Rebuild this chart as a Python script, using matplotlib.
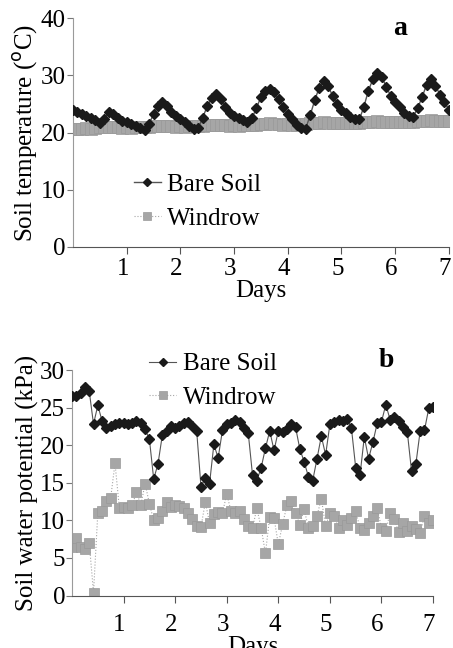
"""
Soil temperature and soil water potential - bare soil vs windrow
"""
import matplotlib.pyplot as plt
import matplotlib.transforms as mtransforms
import numpy as np

plt.rcParams['font.family'] = ['Liberation Serif', 'DejaVu Serif']

# sampling interval: every 2 hours, 7 days
step_days = 2 / 24

# Panel a: soil temperature (deg C)
bare_temp = np.array([
    24.0, 23.6, 23.2, 22.9, 22.6, 22.2, 21.7, 22.3, 23.6, 23.3, 22.6, 22.1,
    21.8, 21.5, 21.2, 20.8, 20.4, 21.5, 23.2, 24.6, 25.3, 24.6, 23.6, 22.9,
    22.4, 21.9, 21.2, 20.7, 20.8, 22.6, 24.6, 26.0, 26.7, 25.8, 24.5, 23.5,
    22.9, 22.5, 22.2, 21.9, 22.5, 24.3, 26.2, 27.2, 27.6, 27.0, 25.8, 24.4,
    23.3, 22.3, 21.3, 20.8, 20.7, 23.0, 25.6, 27.8, 29.0, 28.2, 26.4, 25.0,
    24.0, 23.4, 22.8, 22.4, 22.3, 24.5, 27.3, 29.3, 30.4, 29.7, 28.0, 26.4,
    25.3, 24.4, 23.5, 22.9, 22.8, 24.2, 26.2, 28.3, 29.3, 28.2, 26.6, 25.3,
    24.0])
windrow_temp = np.array([
    20.7, 20.6, 20.7, 20.8, 20.7, 20.8, 20.9, 20.9, 21.0, 20.9, 20.9, 20.8,
    20.9, 20.8, 20.9, 21.0, 20.9, 21.0, 21.1, 21.1, 21.2, 21.1, 21.1, 21.0,
    21.1, 21.0, 21.1, 21.2, 21.1, 21.2, 21.3, 21.3, 21.4, 21.3, 21.3, 21.2,
    21.3, 21.2, 21.3, 21.3, 21.3, 21.4, 21.5, 21.5, 21.6, 21.5, 21.5, 21.4,
    21.5, 21.4, 21.4, 21.5, 21.5, 21.6, 21.7, 21.7, 21.8, 21.7, 21.7, 21.6,
    21.7, 21.6, 21.6, 21.7, 21.7, 21.8, 21.9, 21.9, 22.0, 21.9, 21.9, 21.8,
    21.8, 21.8, 21.8, 21.9, 21.9, 22.0, 22.0, 22.1, 22.2, 22.1, 22.1, 22.0,
    22.0])

# Panel b: soil water potential (kPa)
bare_psi = np.array([
    26.5, 26.6, 26.9, 27.8, 27.2, 22.8, 25.3, 23.2, 22.3, 22.6, 22.8, 23.0,
    22.9, 22.8, 22.9, 23.2, 22.9, 22.1, 20.8, 15.5, 17.5, 21.3, 21.9, 22.5,
    22.3, 22.6, 22.9, 23.1, 22.5, 21.9, 14.5, 15.6, 14.9, 20.1, 18.3, 22.0,
    22.8, 22.9, 23.3, 23.1, 22.3, 21.6, 16.0, 15.3, 17.0, 19.6, 21.9, 19.3,
    21.9, 21.8, 22.2, 22.8, 22.4, 19.5, 17.8, 15.8, 15.3, 18.2, 21.2, 18.7,
    22.8, 23.1, 23.3, 23.2, 23.5, 22.3, 17.0, 16.0, 21.1, 18.2, 20.4, 22.9,
    23.1, 25.4, 23.4, 23.8, 23.2, 22.4, 21.8, 16.5, 17.5, 21.9, 22.0, 24.9,
    25.1])
windrow_psi = np.array([
    6.5, 7.7, 6.5, 6.2, 7.0, 0.4, 11.0, 11.3, 12.6, 13.0, 17.6, 11.7,
    11.8, 11.6, 12.0, 13.8, 12.0, 14.9, 12.2, 10.0, 10.3, 11.2, 12.5, 11.8,
    12.0, 11.9, 11.6, 11.0, 10.2, 9.3, 9.1, 12.4, 9.7, 10.8, 11.1, 11.0,
    13.5, 11.2, 11.0, 11.3, 10.2, 9.3, 9.0, 11.6, 9.0, 5.6, 10.5, 10.3,
    6.8, 9.5, 12.0, 12.6, 11.0, 9.4, 11.5, 9.0, 9.2, 10.6, 12.9, 9.2,
    11.0, 10.6, 9.0, 10.1, 9.4, 10.3, 11.2, 9.0, 8.7, 9.6, 10.6, 11.6,
    9.0, 8.6, 11.0, 10.2, 8.4, 9.6, 8.6, 9.2, 8.8, 8.3, 10.6, 9.6,
    10.0])

days = np.arange(len(bare_temp)) * step_days

bare_color = '#1a1a1a'
windrow_color = '#a6a6a6'

fig = plt.figure(figsize=(4.53, 6.48), dpi=100)
ax1 = fig.add_axes([0.161, 0.619, 0.830, 0.353])
ax2 = fig.add_axes([0.159, 0.081, 0.797, 0.348])


def style_axis(ax, xpad, ylab):
    for side in ('top', 'right'):
        ax.spines[side].set_visible(False)
    ax.spines['left'].set_color('#9a9a9a')
    ax.spines['bottom'].set_color('#555555')
    ax.tick_params(axis='y', length=4, width=0.8, pad=1, labelsize=18,
                   color='#777777')
    ax.tick_params(axis='x', length=5, width=0.8, pad=xpad, labelsize=18,
                   color='#555555')
    ax.set_xlim(0, 7)
    ax.set_xticks([1, 2, 3, 4, 5, 6, 7])
    ax.set_ylabel(ylab, fontsize=18, labelpad=1)
    shift = mtransforms.ScaledTranslation(-4 / 100, 0, fig.dpi_scale_trans)
    for lab in ax.get_xticklabels():
        lab.set_transform(lab.get_transform() + shift)


# Panel a
ax1.plot(days, windrow_temp, color=windrow_color, linestyle=':', linewidth=0.8,
         marker='s', markersize=8, markerfacecolor=windrow_color,
         markeredgecolor='#999999', markeredgewidth=0.5, label='Windrow', zorder=2)
ax1.plot(days, bare_temp, color='#555555', linestyle='-', linewidth=1.0,
         marker='D', markersize=5.5, markerfacecolor=bare_color,
         markeredgecolor=bare_color, label='Bare Soil', zorder=3)
ax1.set_ylim(0, 40)
ax1.set_yticks([0, 10, 20, 30, 40])
style_axis(ax1, 3, r'Soil temperature ($^{\mathrm{o}}$C)')
ax1.set_xlabel('Days', fontsize=18, labelpad=0)
ax1.text(0.87, 0.955, 'a', transform=ax1.transAxes, fontsize=20,
         fontweight='bold', ha='center', va='center')
h, l = ax1.get_legend_handles_labels()
ax1.legend(h[::-1], l[::-1], loc='upper left', bbox_to_anchor=(0.135, 0.365),
           frameon=False, fontsize=18, handlelength=1.1, handletextpad=0.25,
           labelspacing=0.45, borderaxespad=0, markerscale=0.8)

# Panel b
ax2.plot(days, windrow_psi, color=windrow_color, linestyle=':', linewidth=0.8,
         marker='s', markersize=7, markerfacecolor=windrow_color,
         markeredgecolor='#999999', markeredgewidth=0.5, label='Windrow', zorder=2)
ax2.plot(days, bare_psi, color='#555555', linestyle='-', linewidth=0.8,
         marker='D', markersize=5.5, markerfacecolor=bare_color,
         markeredgecolor=bare_color, label='Bare Soil', zorder=3)
ax2.set_ylim(0, 30)
ax2.set_yticks([0, 5, 10, 15, 20, 25, 30])
style_axis(ax2, 8, 'Soil water potential (kPa)')
ax2.set_xlabel('Days', fontsize=18, labelpad=0)
ax2.text(0.87, 1.04, 'b', transform=ax2.transAxes, fontsize=20,
         fontweight='bold', ha='center', va='center')
h, l = ax2.get_legend_handles_labels()
ax2.legend(h[::-1], l[::-1], loc='upper left', bbox_to_anchor=(0.185, 1.12),
           frameon=False, fontsize=18, handlelength=1.1, handletextpad=0.25,
           labelspacing=0.45, borderaxespad=0, markerscale=0.8)

plt.savefig('out.png', dpi=100)
plt.close()
